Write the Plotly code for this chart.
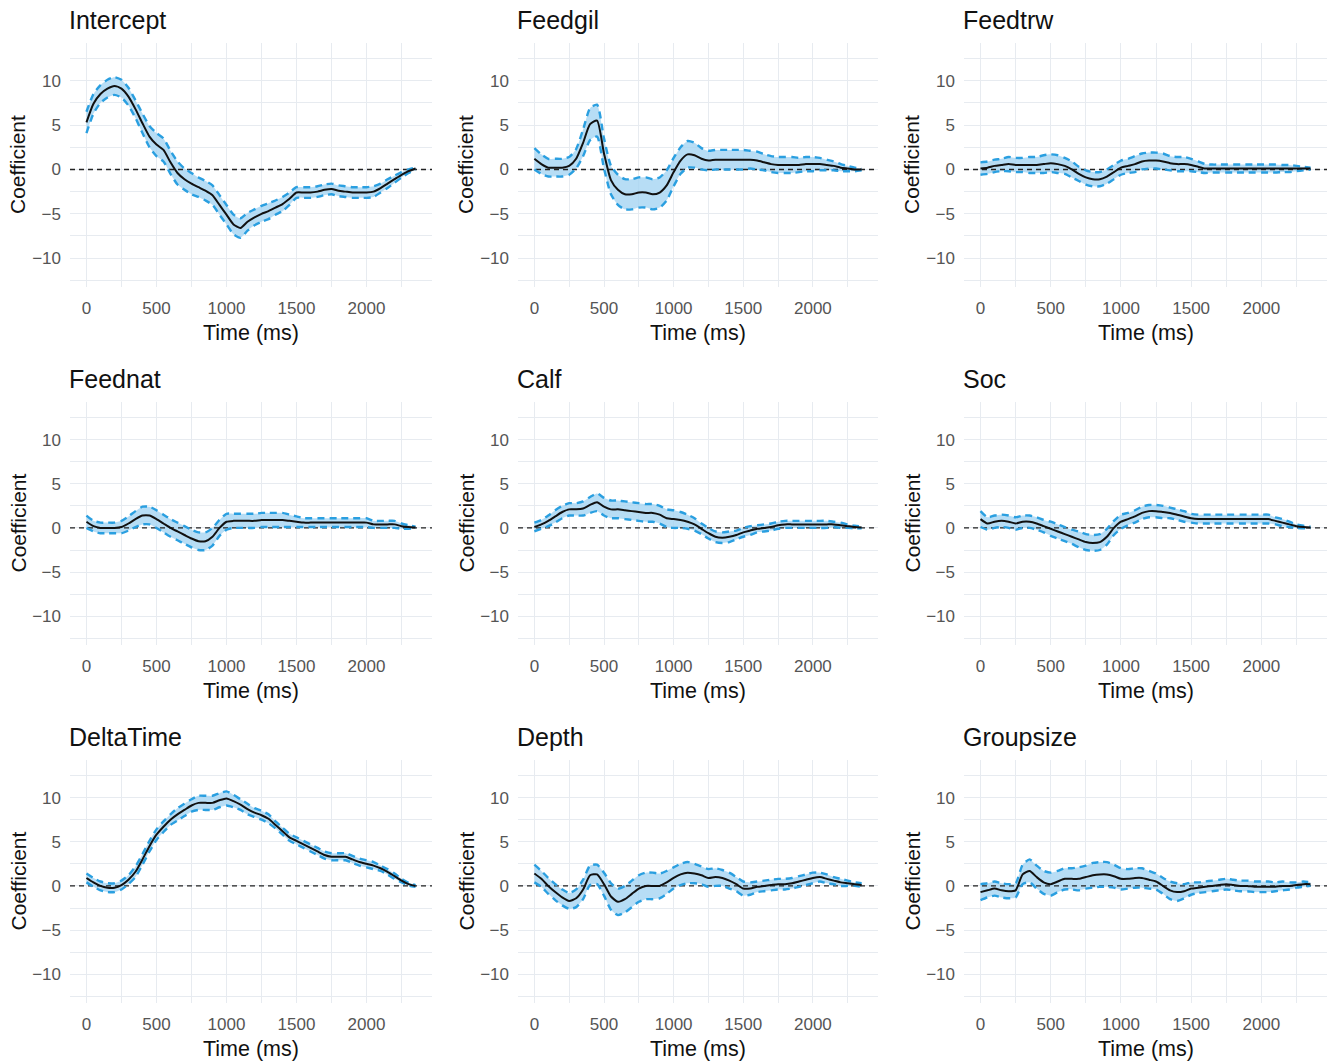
import plotly.graph_objects as go

# ---------------- data ----------------
time_ms = [i * 50 for i in range(48)]  # 0 .. 2350 ms

panel_names = ["Intercept", "Feedgil", "Feedtrw",
               "Feednat", "Calf", "Soc",
               "DeltaTime", "Depth", "Groupsize"]

intercept_mean = [5.3, 7.4, 8.5, 9.1, 9.4, 9.1, 8.2, 6.8, 5.2, 3.7,
                  2.8, 2.2, 0.8, -0.4, -1.1, -1.6, -2.0, -2.4, -2.9, -4.0,
                  -5.1, -6.2, -6.6, -5.9, -5.4, -5.0, -4.7, -4.3, -3.9, -3.3,
                  -2.6, -2.6, -2.6, -2.5, -2.3, -2.2, -2.4, -2.5, -2.6, -2.6,
                  -2.6, -2.5, -2.1, -1.6, -1.1, -0.6, -0.2, 0.1]
intercept_hw = [1.2, 1.1, 1.0, 1.0, 1.0, 1.0, 1.0, 1.0, 1.1, 1.2,
                1.3, 1.3, 1.3, 1.3, 1.2, 1.2, 1.1, 1.1, 1.1, 1.1,
                1.1, 1.1, 1.1, 1.0, 0.9, 0.9, 0.9, 0.8, 0.8, 0.7,
                0.6, 0.6, 0.6, 0.6, 0.6, 0.6, 0.6, 0.6, 0.6, 0.6,
                0.6, 0.6, 0.5, 0.5, 0.4, 0.3, 0.2, 0.1]

feedgil_mean = [1.2, 0.6, 0.2, 0.2, 0.2, 0.4, 1.2, 3.0, 5.1, 5.5,
                1.8, -1.2, -2.3, -2.8, -2.8, -2.6, -2.6, -2.8, -2.6, -1.8,
                -0.3, 1.0, 1.7, 1.6, 1.2, 1.0, 1.1, 1.1, 1.1, 1.1,
                1.1, 1.1, 1.0, 0.8, 0.6, 0.5, 0.5, 0.5, 0.5, 0.6,
                0.6, 0.6, 0.5, 0.4, 0.2, 0.1, 0.0, 0.0]
feedgil_hw = [1.2, 1.1, 1.0, 1.0, 1.0, 1.0, 1.1, 1.5, 1.8, 1.8,
              1.7, 1.6, 1.7, 1.7, 1.7, 1.7, 1.7, 1.7, 1.7, 1.7,
              1.6, 1.5, 1.5, 1.4, 1.2, 1.1, 1.1, 1.1, 1.1, 1.1,
              1.1, 1.0, 1.0, 0.9, 0.9, 0.9, 0.9, 0.9, 0.8, 0.8,
              0.8, 0.7, 0.6, 0.5, 0.4, 0.3, 0.2, 0.1]

feedtrw_mean = [0.1, 0.2, 0.4, 0.5, 0.6, 0.5, 0.5, 0.5, 0.5, 0.6,
                0.7, 0.6, 0.4, 0.0, -0.5, -0.9, -1.1, -1.1, -0.8, -0.3,
                0.2, 0.4, 0.6, 0.9, 1.0, 1.0, 0.9, 0.7, 0.6, 0.6,
                0.5, 0.3, 0.1, 0.1, 0.1, 0.1, 0.1, 0.1, 0.1, 0.1,
                0.1, 0.1, 0.1, 0.1, 0.1, 0.1, 0.1, 0.1]
feedtrw_hw = [0.7, 0.7, 0.7, 0.7, 0.8, 0.8, 0.8, 0.9, 0.9, 1.0,
              1.0, 1.0, 0.9, 0.9, 0.8, 0.8, 0.8, 0.8, 0.8, 0.8,
              0.8, 0.8, 0.9, 0.9, 0.9, 0.9, 0.9, 0.8, 0.8, 0.8,
              0.7, 0.6, 0.5, 0.45, 0.45, 0.45, 0.45, 0.45, 0.45, 0.45,
              0.45, 0.45, 0.45, 0.4, 0.4, 0.3, 0.2, 0.1]

feednat_mean = [0.7, 0.2, 0.0, 0.0, 0.0, 0.1, 0.5, 1.0, 1.4, 1.4,
                1.0, 0.5, 0.0, -0.4, -0.8, -1.2, -1.5, -1.5, -1.0, 0.0,
                0.7, 0.8, 0.8, 0.8, 0.8, 0.9, 0.9, 0.9, 0.9, 0.8,
                0.7, 0.6, 0.6, 0.6, 0.6, 0.6, 0.6, 0.6, 0.6, 0.6,
                0.6, 0.4, 0.4, 0.4, 0.4, 0.2, 0.1, 0.05]
feednat_hw = [0.7, 0.6, 0.6, 0.6, 0.6, 0.7, 0.8, 0.9, 1.0, 1.0,
              1.0, 1.0, 1.0, 1.0, 1.0, 1.0, 1.0, 1.0, 1.0, 0.9,
              0.9, 0.8, 0.8, 0.8, 0.8, 0.8, 0.8, 0.8, 0.8, 0.7,
              0.6, 0.5, 0.5, 0.5, 0.5, 0.5, 0.5, 0.5, 0.5, 0.5,
              0.5, 0.4, 0.4, 0.4, 0.4, 0.3, 0.2, 0.1]

calf_mean = [0.1, 0.4, 0.8, 1.3, 1.8, 2.1, 2.1, 2.2, 2.6, 2.9,
             2.4, 2.1, 2.1, 2.0, 1.9, 1.8, 1.7, 1.7, 1.5, 1.1,
             1.0, 0.9, 0.7, 0.4, -0.1, -0.6, -1.0, -1.1, -1.0, -0.8,
             -0.5, -0.3, -0.1, 0.0, 0.1, 0.3, 0.4, 0.4, 0.4, 0.4,
             0.4, 0.4, 0.4, 0.4, 0.3, 0.2, 0.1, 0.05]
calf_hw = [0.5, 0.5, 0.6, 0.7, 0.7, 0.7, 0.7, 0.8, 0.9, 1.0,
           1.0, 1.0, 1.0, 1.0, 1.0, 1.0, 1.0, 1.0, 1.0, 1.0,
           1.0, 0.9, 0.8, 0.7, 0.6, 0.6, 0.6, 0.6, 0.6, 0.5,
           0.5, 0.5, 0.4, 0.4, 0.4, 0.4, 0.4, 0.4, 0.4, 0.4,
           0.4, 0.4, 0.4, 0.3, 0.3, 0.2, 0.15, 0.1]

soc_mean = [1.0, 0.5, 0.7, 0.8, 0.7, 0.5, 0.7, 0.7, 0.5, 0.2,
            -0.1, -0.4, -0.7, -1.0, -1.3, -1.6, -1.7, -1.6, -1.0, 0.0,
            0.7, 1.0, 1.3, 1.7, 1.9, 1.9, 1.8, 1.7, 1.5, 1.3,
            1.1, 1.0, 1.0, 1.0, 1.0, 1.0, 1.0, 1.0, 1.0, 1.0,
            1.0, 1.0, 0.8, 0.6, 0.4, 0.2, 0.1, 0.05]
soc_hw = [0.9, 0.7, 0.7, 0.7, 0.7, 0.7, 0.7, 0.7, 0.7, 0.7,
          0.8, 0.8, 0.8, 0.8, 0.9, 0.9, 0.9, 0.9, 0.9, 0.8,
          0.8, 0.7, 0.7, 0.7, 0.7, 0.7, 0.7, 0.6, 0.6, 0.6,
          0.5, 0.5, 0.5, 0.5, 0.5, 0.5, 0.5, 0.5, 0.5, 0.5,
          0.5, 0.5, 0.4, 0.4, 0.3, 0.2, 0.15, 0.1]

deltatime_mean = [0.9, 0.4, 0.0, -0.2, -0.2, 0.1, 0.7, 1.6, 3.0, 4.5,
                  5.8, 6.7, 7.5, 8.1, 8.6, 9.1, 9.4, 9.4, 9.4, 9.7,
                  9.9, 9.6, 9.2, 8.7, 8.3, 8.0, 7.6, 6.9, 6.2, 5.5,
                  5.1, 4.7, 4.3, 3.9, 3.5, 3.3, 3.3, 3.3, 3.0, 2.7,
                  2.5, 2.3, 2.0, 1.6, 1.1, 0.6, 0.2, 0.0]
deltatime_hw = [0.5, 0.5, 0.5, 0.5, 0.5, 0.5, 0.5, 0.6, 0.6, 0.6,
                0.6, 0.6, 0.6, 0.7, 0.7, 0.7, 0.8, 0.8, 0.8, 0.8,
                0.8, 0.7, 0.6, 0.6, 0.5, 0.5, 0.5, 0.4, 0.4, 0.4,
                0.4, 0.4, 0.4, 0.4, 0.4, 0.4, 0.4, 0.4, 0.4, 0.4,
                0.4, 0.4, 0.3, 0.3, 0.3, 0.2, 0.15, 0.1]

depth_mean = [1.4, 0.8, 0.0, -0.7, -1.3, -1.7, -1.4, -0.4, 1.2, 1.3,
              0.2, -1.2, -1.8, -1.5, -0.9, -0.3, 0.0, 0.0, 0.0, 0.4,
              0.9, 1.3, 1.5, 1.4, 1.2, 0.9, 1.0, 0.9, 0.6, 0.2,
              -0.3, -0.3, -0.1, 0.0, 0.1, 0.2, 0.2, 0.3, 0.5, 0.7,
              0.9, 1.0, 0.8, 0.6, 0.4, 0.3, 0.2, 0.1]
depth_hw = [1.0, 0.9, 0.9, 0.9, 0.9, 0.9, 1.0, 1.1, 1.1, 1.1,
            1.3, 1.5, 1.5, 1.5, 1.5, 1.5, 1.5, 1.5, 1.4, 1.3,
            1.2, 1.2, 1.2, 1.1, 1.0, 1.0, 1.0, 0.9, 0.9, 0.8,
            0.8, 0.7, 0.6, 0.6, 0.6, 0.6, 0.6, 0.6, 0.6, 0.6,
            0.6, 0.5, 0.5, 0.4, 0.4, 0.3, 0.2, 0.2]

groupsize_mean = [-0.7, -0.5, -0.3, -0.5, -0.6, -0.5, 1.3, 1.7, 1.0, 0.4,
                  0.2, 0.5, 0.8, 0.8, 0.8, 1.0, 1.2, 1.3, 1.3, 1.1,
                  0.8, 0.8, 0.9, 0.9, 0.7, 0.5, 0.0, -0.5, -0.7, -0.6,
                  -0.3, -0.2, -0.1, 0.0, 0.1, 0.2, 0.1, 0.0, 0.0, -0.1,
                  -0.1, -0.1, -0.1, 0.0, 0.0, 0.1, 0.2, 0.2]
groupsize_hw = [0.9, 0.8, 0.8, 0.8, 0.8, 0.8, 1.1, 1.3, 1.3, 1.3,
                1.3, 1.2, 1.2, 1.2, 1.3, 1.3, 1.4, 1.4, 1.4, 1.3,
                1.2, 1.1, 1.1, 1.1, 1.0, 0.9, 0.9, 1.0, 1.0, 0.8,
                0.7, 0.6, 0.6, 0.6, 0.6, 0.6, 0.6, 0.6, 0.6, 0.6,
                0.6, 0.6, 0.5, 0.5, 0.4, 0.3, 0.3, 0.2]

means = [intercept_mean, feedgil_mean, feedtrw_mean,
         feednat_mean, calf_mean, soc_mean,
         deltatime_mean, depth_mean, groupsize_mean]
halfwidths = [intercept_hw, feedgil_hw, feedtrw_hw,
              feednat_hw, calf_hw, soc_hw,
              deltatime_hw, depth_hw, groupsize_hw]

x_ticks = [0, 500, 1000, 1500, 2000]
y_ticks = [-10, -5, 0, 5, 10]

# ---------------- layout geometry ----------------
W, H = 1330, 1063
col_px = [(70, 432), (518, 878), (964, 1327)]
row_px = [(43, 287), (402, 645), (760, 1003)]
x_range = [-117.5, 2467.5]
y_range = [-13.25, 14.25]

FONT = "Liberation Sans, Arial, sans-serif"
RIBBON = "rgba(165,213,242,0.8)"
DASH_BLUE = "#2a9fe0"
GRID = "#e7ebf0"

fig = go.Figure()
annotations = []
layout_axes = {}

for i, name in enumerate(panel_names):
    r, c = divmod(i, 3)
    ax = "" if i == 0 else str(i + 1)
    xref, yref = "x" + ax, "y" + ax
    x0p, x1p = col_px[c]
    y0p, y1p = row_px[r]

    m = means[i]
    hw = halfwidths[i]
    upper = [a + b for a, b in zip(m, hw)]
    lower = [a - b for a, b in zip(m, hw)]

    # ribbon
    fig.add_trace(go.Scatter(
        x=time_ms + time_ms[::-1], y=upper + lower[::-1],
        fill="toself", fillcolor=RIBBON, line=dict(width=0, shape="spline", smoothing=0.6),
        mode="lines", hoverinfo="skip", showlegend=False, xaxis=xref, yaxis=yref))
    # zero reference
    fig.add_trace(go.Scatter(
        x=x_range, y=[0, 0], mode="lines",
        line=dict(color="#222222", width=1.4, dash="5px,4px"),
        hoverinfo="skip", showlegend=False, xaxis=xref, yaxis=yref))
    # dashed CI bounds
    for bound in (upper, lower):
        fig.add_trace(go.Scatter(
            x=time_ms, y=bound, mode="lines",
            line=dict(color=DASH_BLUE, width=2.4, dash="7px,5px", shape="spline", smoothing=0.6),
            hoverinfo="skip", showlegend=False, xaxis=xref, yaxis=yref))
    # mean
    fig.add_trace(go.Scatter(
        x=time_ms, y=m, mode="lines",
        line=dict(color="#111111", width=2, shape="spline", smoothing=0.6),
        showlegend=False, xaxis=xref, yaxis=yref))

    layout_axes["xaxis" + ax] = dict(
        domain=[x0p / W, x1p / W], range=x_range, anchor=yref,
        tickvals=x_ticks, ticks="", showline=False, zeroline=False,
        showgrid=True, gridcolor=GRID, gridwidth=1.1,
        minor=dict(tick0=0, dtick=250, showgrid=True, gridcolor=GRID, gridwidth=0.6),
        tickfont=dict(family=FONT, size=17, color="#555555"),
        ticklabelstandoff=9, fixedrange=True)
    layout_axes["yaxis" + ax] = dict(
        domain=[1 - y1p / H, 1 - y0p / H], range=y_range, anchor=xref,
        tickvals=y_ticks, ticks="", showline=False, zeroline=False,
        showgrid=True, gridcolor=GRID, gridwidth=1.1,
        minor=dict(tick0=0, dtick=2.5, showgrid=True, gridcolor=GRID, gridwidth=0.6),
        tickfont=dict(family=FONT, size=17, color="#555555"),
        ticklabelstandoff=8, fixedrange=True)

    # panel title
    annotations.append(dict(
        text=name, x=(x0p - 3) / W, y=1 - (y0p - 23) / H, xref="paper", yref="paper",
        xanchor="left", yanchor="middle", showarrow=False,
        font=dict(family=FONT, size=25, color="#111111")))
    # x-axis title
    annotations.append(dict(
        text="Time (ms)", x=(x0p + x1p) / 2 / W, y=1 - (y1p + 46) / H,
        xref="paper", yref="paper", xanchor="center", yanchor="middle",
        showarrow=False, font=dict(family=FONT, size=21.5, color="#111111")))
    # y-axis title
    annotations.append(dict(
        text="Coefficient", x=(x0p - 52) / W, y=1 - (y0p + y1p) / 2 / H,
        xref="paper", yref="paper", xanchor="center", yanchor="middle",
        textangle=-90, showarrow=False,
        font=dict(family=FONT, size=21, color="#111111")))

fig.update_layout(
    width=W, height=H, margin=dict(l=0, r=0, t=0, b=0),
    paper_bgcolor="white", plot_bgcolor="white",
    annotations=annotations, showlegend=False, **layout_axes)

fig.write_html("out.html", config={"displayModeBar": False})
